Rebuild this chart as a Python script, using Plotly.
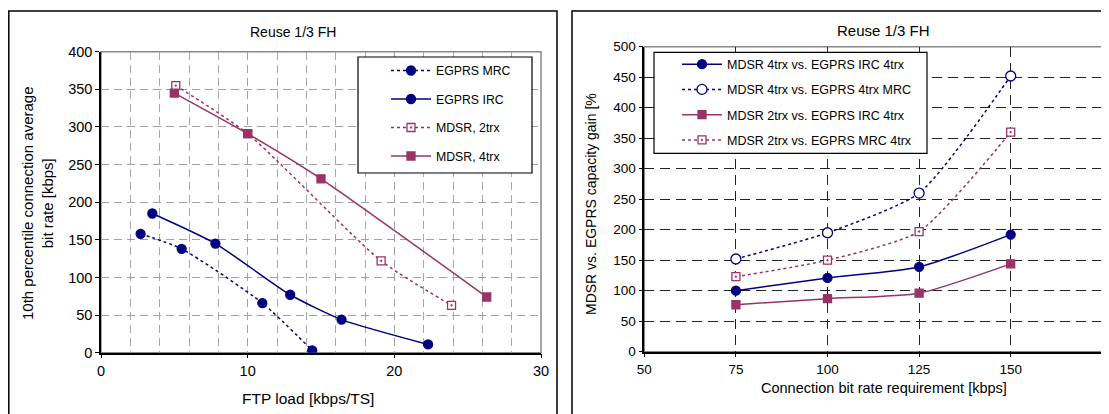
import plotly.graph_objects as go

# ---- Left panel data ----
mrc_x = [2.7, 5.5, 11.0, 14.4]
mrc_y = [158, 138, 66, 3]
irc_x = [3.5, 7.8, 12.9, 16.4, 22.3]
irc_y = [185, 145, 77, 44, 11]
mdsr2_x = [5.1, 10.0, 19.1, 23.9]
mdsr2_y = [355, 291, 122, 63]
mdsr4_x = [5.0, 10.0, 15.0, 26.3]
mdsr4_y = [345, 291, 231, 74]

# ---- Right panel data ----
req = [75, 100, 125, 150]
g4_irc = [100, 121, 139, 192]
g4_mrc = [152, 195, 260, 452]
g2_irc = [77, 87, 96, 144]
g2_mrc = [123, 150, 197, 360]

NAVY = "#000080"
PLUM = "#993366"
OFF = 8  # page body margin
W, H = 1109 - OFF, 414 - OFF
FONT = "Liberation Sans, Arial, sans-serif"

def px(x):
    return (x - OFF) / W

def py(y):
    return 1 - (y - OFF) / H

fig = go.Figure()

def add(x, y, name, color, dash, symbol, size, xa, ya, legend, group, hollow=False):
    fig.add_trace(go.Scatter(
        x=x, y=y, name=name, mode="lines+markers",
        line=dict(color=color, dash=dash, width=1.5, shape="spline", smoothing=0.6),
        marker=dict(color="white" if hollow else color, symbol=symbol, size=size,
                    line=dict(color=color, width=1.3)),
        xaxis=xa, yaxis=ya, legend=legend, legendgroup=group,
    ))

add(mrc_x, mrc_y, "EGPRS MRC", NAVY, "dot", "circle", 9, "x", "y", "legend", "a")
add(irc_x, irc_y, "EGPRS IRC", NAVY, "solid", "circle", 9, "x", "y", "legend", "b")
add(mdsr2_x, mdsr2_y, "MDSR, 2trx", PLUM, "dot", "square-dot", 8, "x", "y", "legend", "c", hollow=True)
add(mdsr4_x, mdsr4_y, "MDSR, 4trx", PLUM, "solid", "square", 8, "x", "y", "legend", "d")

add(req, g4_irc, "MDSR 4trx vs. EGPRS IRC 4trx", NAVY, "solid", "circle", 9, "x2", "y2", "legend2", "e")
add(req, g4_mrc, "MDSR 4trx vs. EGPRS 4trx MRC", NAVY, "dot", "circle", 10, "x2", "y2", "legend2", "f", hollow=True)
add(req, g2_irc, "MDSR 2trx vs. EGPRS IRC 4trx", PLUM, "solid", "square", 8, "x2", "y2", "legend2", "g")
add(req, g2_mrc, "MDSR 2trx vs. EGPRS MRC 4trx", PLUM, "dot", "square-dot", 8, "x2", "y2", "legend2", "h", hollow=True)

# plot areas (reference pixels)
L = dict(x0=101, x1=541, y0=51.7, y1=352.7)
R = dict(x0=644.3, x1=1102.3, y0=46.7, y1=351.7)

common = dict(showline=True, linecolor="black", linewidth=1.5, ticks="outside", ticklen=4,
              tickcolor="black", zeroline=False, automargin=False)

fig.update_layout(
    template="none",
    width=W, height=H, margin=dict(l=0, r=0, t=0, b=0, pad=0, autoexpand=False),
    paper_bgcolor="white", plot_bgcolor="white",
    font=dict(family=FONT, color="black"),
    xaxis=dict(domain=[px(L["x0"]), px(L["x1"])], range=[0, 30], dtick=10, tick0=0,
               showgrid=True, gridcolor="#a0a0a0", griddash="8px,5px", gridwidth=1,
               minor=dict(dtick=2, showgrid=True, gridcolor="#a8a8a8", griddash="8px,5px", gridwidth=1, ticks=""),
               tickfont=dict(size=14.5), anchor="y", **common),
    yaxis=dict(domain=[py(L["y1"]), py(L["y0"])], range=[0, 400], dtick=50,
               showgrid=True, gridcolor="#a0a0a0", griddash="8px,5px", gridwidth=1,
               tickfont=dict(size=14.5), anchor="x", **common),
    xaxis2=dict(domain=[px(R["x0"]), px(R["x1"])], range=[50, 175], dtick=25, tick0=50,
                showgrid=True, gridcolor="#222222", griddash="10px,6px", gridwidth=1,
                tickfont=dict(size=13.5), anchor="y2", **common),
    yaxis2=dict(domain=[py(R["y1"]), py(R["y0"])], range=[0, 500], dtick=50,
                showgrid=True, gridcolor="#222222", griddash="10px,6px", gridwidth=1,
                tickfont=dict(size=13.5), anchor="x2", **common),
    legend=dict(x=px(386), y=py(56), xanchor="left", yanchor="top",
                bgcolor="rgba(0,0,0,0)", borderwidth=0,
                font=dict(size=12.3), tracegroupgap=9.5, itemwidth=40),
    legend2=dict(x=px(677), y=py(49.5), xanchor="left", yanchor="top",
                 bgcolor="rgba(0,0,0,0)", borderwidth=0,
                 font=dict(size=12.5), tracegroupgap=6, itemwidth=40),
    showlegend=True,
)

shapes = []
# panel borders
shapes.append(dict(type="rect", xref="paper", yref="paper", x0=px(8.8), x1=px(557), y0=py(440), y1=py(11),
                   line=dict(color="black", width=1.5), fillcolor="rgba(0,0,0,0)", layer="below"))
shapes.append(dict(type="rect", xref="paper", yref="paper", x0=px(572), x1=px(1130), y0=py(440), y1=py(11),
                   line=dict(color="black", width=1.5), fillcolor="rgba(0,0,0,0)", layer="below"))
# plot area gray frames
for P in (L, R):
    shapes.append(dict(type="rect", xref="paper", yref="paper", x0=px(P["x0"]), x1=px(P["x1"]),
                       y0=py(P["y1"]), y1=py(P["y0"]), line=dict(color="#888888", width=1.5),
                       fillcolor="rgba(0,0,0,0)", layer="below"))
# legend boxes
for (x0, x1, y0, y1) in ((358, 532, 57, 173), (654, 927, 52.3, 153.3)):
    shapes.append(dict(type="rect", xref="paper", yref="paper", x0=px(x0), x1=px(x1),
                       y0=py(y1), y1=py(y0), line=dict(color="black", width=1.2),
                       fillcolor="white", layer="above"))
fig.update_layout(shapes=shapes)

ann = [
    dict(text="Reuse 1/3 FH", x=px(293), y=py(32), font=dict(size=14)),
    dict(text="FTP load [kbps/TS]", x=px(308), y=py(398), font=dict(size=15.5)),
    dict(text="10th percentile connection average<br>bit rate [kbps]", x=px(37), y=py(203),
         textangle=-90, font=dict(size=15)),
    dict(text="Reuse 1/3 FH", x=px(883), y=py(30), font=dict(size=15)),
    dict(text="Connection bit rate requirement [kbps]", x=px(884), y=py(388), font=dict(size=14.5)),
    dict(text="MDSR vs. EGPRS capacity gain [%", x=px(591), y=py(204),
         textangle=-90, font=dict(size=14)),
]
for a in ann:
    a.update(xref="paper", yref="paper", showarrow=False, xanchor="center", yanchor="middle")
fig.update_layout(annotations=ann)

fig.write_html("out.html")
